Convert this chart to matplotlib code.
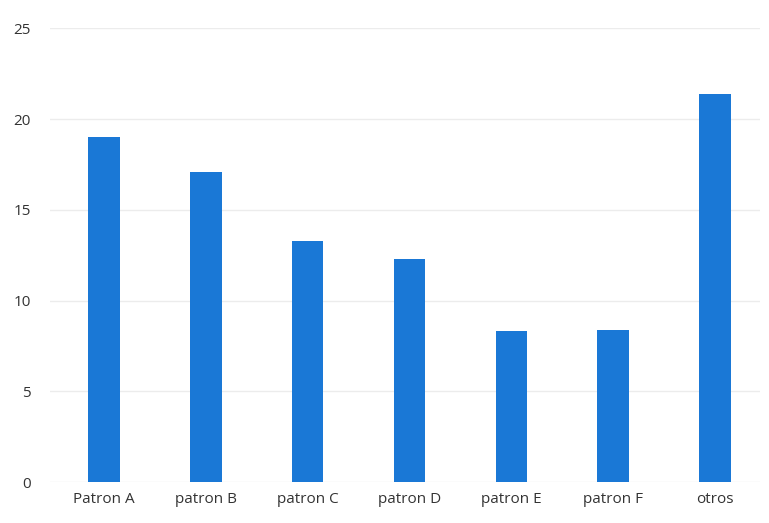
import matplotlib
matplotlib.use("Agg")
import matplotlib.pyplot as plt

categories = ["Patron A", "patron B", "patron C", "patron D", "patron E", "patron F", "otros"]
values = [19.0, 17.1, 13.3, 12.3, 8.3, 8.4, 21.4]
yticks = [0, 5, 10, 15, 20, 25]

plt.rcParams['font.family'] = ['Open Sans', 'DejaVu Sans']

fig = plt.figure(figsize=(7.69, 5.23), dpi=100)
ax = fig.add_axes([0.065, 0.078, 0.923, 0.868])

x = list(range(len(categories)))
ax.bar(x, values, width=0.31, color="#1a78d6", zorder=3)

ax.set_ylim(0, 25)
ax.set_xlim(-0.53, 6.44)
ax.set_yticks(yticks)
ax.set_xticks(x)
ax.set_xticklabels(categories)
ax.yaxis.grid(True, color="#ececec", linewidth=1.0, zorder=0)
ax.set_axisbelow(True)
for s in ax.spines.values():
    s.set_visible(False)
ax.tick_params(axis='both', length=0, labelsize=11, colors="#333333")
ax.tick_params(axis='y', pad=14)
ax.tick_params(axis='x', pad=7)

fig.savefig("out.png", dpi=100, facecolor="white")
